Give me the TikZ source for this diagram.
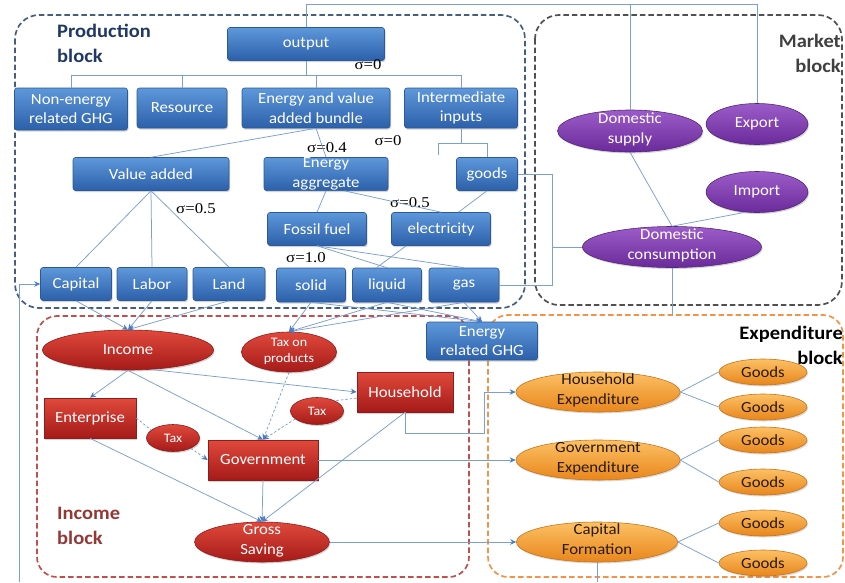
\documentclass[tikz,border=0pt]{standalone}
\usepackage{fontspec}
\setmainfont{Carlito}[FakeStretch=1.08]
\newfontfamily\sigfont{Liberation Serif}[FakeStretch=1.12]
\usetikzlibrary{shapes.geometric,shadows,arrows.meta,calc}
\definecolor{bluetop}{HTML}{5E97DA}
\definecolor{bluebot}{HTML}{2C60AA}
\definecolor{blueedge}{HTML}{2A5A98}
\definecolor{redtop}{HTML}{E0493C}
\definecolor{redbot}{HTML}{A51A18}
\definecolor{rededge}{HTML}{8E1C1A}
\definecolor{purtop}{HTML}{9C5CC8}
\definecolor{purbot}{HTML}{6A2A9A}
\definecolor{puredge}{HTML}{55247C}
\definecolor{ortop}{HTML}{FCC064}
\definecolor{orbot}{HTML}{E8861C}
\definecolor{oredge}{HTML}{C9741C}
\definecolor{ortext}{HTML}{2A1A08}
\definecolor{lineblue}{HTML}{7B9FD0}
\definecolor{arrowblue}{HTML}{4A7CC0}
\definecolor{prodborder}{HTML}{465F80}
\definecolor{mktborder}{HTML}{505050}
\definecolor{incborder}{HTML}{C0504D}
\definecolor{expborder}{HTML}{F2934A}
\definecolor{prodlabel}{HTML}{1F3864}
\definecolor{inclabel}{HTML}{953735}
\newcommand\twol[2]{\raisebox{-4.5pt}{\smash{\makebox[0pt]{\begin{tabular}{@{}c@{}}#1\\#2\end{tabular}}}}}
\tikzset{
  basefont/.style={font=\fontsize{15.5}{19.5}\selectfont},
  bbox/.style={basefont, rectangle, rounded corners=2.5pt, top color=bluetop, bottom color=bluebot,
    draw=blueedge, line width=0.6pt, text=white, align=center, inner sep=0.5pt,
    drop shadow={shadow xshift=1pt, shadow yshift=-1.5pt, opacity=0.35}},
  rrect/.style={basefont, rectangle, top color=redtop, bottom color=redbot,
    draw=rededge, line width=0.6pt, text=white, align=center, inner sep=0.5pt,
    drop shadow={shadow xshift=1pt, shadow yshift=-1.5pt, opacity=0.35}},
  rell/.style={basefont, ellipse, top color=redtop, bottom color=redbot,
    draw=rededge, line width=0.6pt, text=white, inner sep=0pt,
    drop shadow={shadow xshift=1pt, shadow yshift=-1.5pt, opacity=0.35}},
  pell/.style={basefont, ellipse, top color=purtop, bottom color=purbot,
    draw=puredge, line width=0.6pt, text=white, inner sep=0pt,
    drop shadow={shadow xshift=1pt, shadow yshift=-1.5pt, opacity=0.35}},
  oell/.style={basefont, ellipse, top color=ortop, bottom color=orbot,
    draw=oredge, line width=0.6pt, text=ortext, inner sep=0pt,
    drop shadow={shadow xshift=1pt, shadow yshift=-1.5pt, opacity=0.3}},
  smallfont/.style={font=\fontsize{13}{16}\selectfont},
  sig/.style={font=\sigfont\fontsize{15}{18}\selectfont, inner sep=0pt},
  blk/.style={line width=1.7pt, dash pattern=on 5.5pt off 3pt, rounded corners=24pt},
  blklabel/.style={font=\bfseries\fontsize{19}{25}\selectfont, inner sep=0pt},
  conn/.style={draw=lineblue, line width=0.75pt},
  arr/.style={conn, -{Stealth[length=6pt,width=5.5pt,color=arrowblue]}},
  dsh/.style={dash pattern=on 2.5pt off 2pt},
}
\begin{document}
\begin{tikzpicture}[x=1pt,y=-1pt]
\useasboundingbox (0,0) rectangle (845,582);
% blocks
\draw[blk, draw=prodborder] (15,15) rectangle (525,308);
\draw[blk, draw=mktborder] (535,15) rectangle (842,305);
\draw[blk, draw=incborder, rounded corners=20pt] (37,316) rectangle (469,577);
\draw[blk, draw=expborder, rounded corners=20pt] (488,315) rectangle (843,577);
% block labels
\node[blklabel, text=prodlabel, anchor=north west, align=left] (lprod) at (57,24) {Production\\block};
\node[blklabel, text=mktborder!80!black, anchor=north east, align=right] (lmkt) at (841,34) {Market\\block};
\node[blklabel, text=inclabel, anchor=north west, align=left] (linc) at (57,507) {Income\\block};
\node[blklabel, text=black, anchor=north east, align=right] (lexp) at (843,326) {Expenditure\\block};
% production nodes
\node[bbox, minimum width=157, minimum height=33] (output) at (306,44) {output};
\node[bbox, minimum width=113, minimum height=42] (nonghg) at (71,109) {Non-energy\\related GHG};
\node[bbox, minimum width=90, minimum height=40] (resource) at (182,108) {Resource};
\node[bbox, minimum width=148, minimum height=40] (bundle) at (316,108) {Energy and value\\added bundle};
\node[bbox, minimum width=113, minimum height=40] (intermed) at (461,108) {Intermediate\\inputs};
\node[bbox, minimum width=156, minimum height=33] (valueadded) at (151,174) {Value added};
\node[bbox, minimum width=124, minimum height=33] (agg) at (326,174) {Energy\\aggregate};
\node[bbox, minimum width=61, minimum height=33] (goods) at (487,174) {goods};
\node[bbox, minimum width=99, minimum height=33] (fossil) at (317,229) {Fossil fuel};
\node[bbox, minimum width=99, minimum height=33] (electricity) at (441,229) {electricity};
\node[bbox, minimum width=71, minimum height=33] (capital) at (76,284) {Capital};
\node[bbox, minimum width=70, minimum height=33] (labor) at (152,284) {Labor};
\node[bbox, minimum width=72, minimum height=33] (land) at (229,284) {Land};
\node[bbox, minimum width=69, minimum height=34] (solid) at (311,285) {solid};
\node[bbox, minimum width=69, minimum height=34] (liquid) at (387,285) {liquid};
\node[bbox, minimum width=70, minimum height=34] (gas) at (464,285) {gas};
\node[bbox, minimum width=111, minimum height=38] (ghg) at (482,341) {Energy\\related GHG};
% sigma labels
\node[sig] (s1) at (368,65) {σ=0};
\node[sig] (s2) at (327,148) {σ=0.4};
\node[sig] (s3) at (388,141) {σ=0};
\node[sig] (s4) at (410,203) {σ=0.5};
\node[sig] (s5) at (196,209) {σ=0.5};
\node[sig] (s6) at (306,258) {σ=1.0};
% market nodes
\node[pell, minimum width=145, minimum height=42] (dsupply) at (630,131) {\twol{Domestic}{supply}};
\node[pell, minimum width=102, minimum height=41] (export) at (757,124) {Export};
\node[pell, minimum width=102, minimum height=41] (import) at (757,192) {Import};
\node[pell, minimum width=179, minimum height=41] (dcons) at (672,247) {\twol{Domestic}{consumption}};
% income nodes
\node[rell, minimum width=171, minimum height=40] (income) at (128,350) {Income};
\node[rell, smallfont, minimum width=95, minimum height=40] (taxprod) at (289,352) {\raisebox{0.5pt}{\twol{Tax on}{products}}};
\node[rrect, minimum width=92, minimum height=40] (enterprise) at (90,418) {Enterprise};
\node[rell, smallfont, minimum width=53, minimum height=27] (taxL) at (173,438) {Tax};
\node[rell, smallfont, minimum width=53, minimum height=27] (taxR) at (317,411) {Tax};
\node[rrect, minimum width=96, minimum height=40] (household) at (405,392) {Household};
\node[rrect, minimum width=110, minimum height=40] (gov) at (263,460) {Government};
\node[rell, minimum width=135, minimum height=40] (gsave) at (262,542) {\twol{Gross}{Saving}};
% expenditure nodes
\node[oell, minimum width=164, minimum height=40] (hexp) at (598,392) {\twol{Household}{Expenditure}};
\node[oell, minimum width=164, minimum height=40] (gexp) at (598,460) {\twol{Government}{Expenditure}};
\node[oell, minimum width=161, minimum height=40] (capform) at (597,542) {\twol{Capital}{Formation}};
\node[oell, minimum width=88, minimum height=26] (g1) at (763,372) {Goods};
\node[oell, minimum width=88, minimum height=26] (g2) at (763,407) {Goods};
\node[oell, minimum width=88, minimum height=26] (g3) at (763,440) {Goods};
\node[oell, minimum width=88, minimum height=26] (g4) at (763,482) {Goods};
\node[oell, minimum width=88, minimum height=26] (g5) at (763,523) {Goods};
\node[oell, minimum width=88, minimum height=26] (g6) at (763,563) {Goods};
% coordinates
\coordinate (ytop) at (0,4);
\coordinate (ytree) at (0,75);
\coordinate (yint) at (0,143);
\coordinate (orph) at (438,155);
\coordinate (jx) at (552,0);
\coordinate (dcb) at (672,315);
\coordinate (lb) at (19,582);
\coordinate (hx) at (484,433);
% production connectors
\draw[conn] (output.north) -- (output.north |- ytop) -| (export.north);
\draw[conn] (dsupply.north) -- (dsupply.north |- ytop);
\draw[conn] (output.south) -- (output.south |- ytree);
\draw[conn] (nonghg.north) |- (intermed.north |- ytree) -- (intermed.north);
\draw[conn] (resource.north) -- (resource.north |- ytree);
\draw[conn] (bundle.north) -- (bundle.north |- ytree);
\draw[conn] (valueadded.north) -- (bundle.south);
\draw[conn] (bundle.south) -- (agg.north);
\draw[conn] (intermed.south) -- (intermed.south |- yint);
\draw[conn] (orph) |- (goods.north |- yint) -- (goods.north);
\draw[conn] (agg.south) -- (fossil.north);
\draw[conn] ($(agg.south)!0.3!(agg.south east)$) -- (electricity.north);
\draw[conn] (goods.south) -- ($(electricity.north)!0.35!(electricity.north east)$);
\foreach \n in {capital,labor,land} \draw[conn] (valueadded.south) -- (\n.north);
\draw[conn] (fossil.south) -- (liquid.north);
\draw[conn] (fossil.south) -- (gas.north);
\draw[conn] ($(electricity.south west)!0.15!(electricity.south east)$) -- ($(liquid.north west)!0.35!(liquid.north east)$);
% market connectors
\draw[conn] (goods.east) -- (goods.east -| jx) -- (gas.east -| jx) -- (gas.east);
\draw[conn] (dcons.west) -- (dcons.west -| jx);
\draw[conn] (dsupply.south) -- (dcons.north);
\draw[conn] (import.240) -- (dcons.north);
\draw[conn] (dcons.south) -- (dcb);
% income connectors
\draw[arr] (lb) |- (capital.west);
\foreach \n in {capital,labor,land} \draw[arr] (\n.south) -- (income.north);
\foreach \n in {solid,liquid,gas} \draw[arr] (\n.south) -- (taxprod.north);
\foreach \n in {solid,liquid,gas} \draw[arr] (\n.south) -- (ghg.north);
\draw[arr] (income.south) -- (enterprise.north);
\draw[arr] (income.south) -- (gov.north);
\draw[arr] (income.-40) -- (household.west);
\draw[arr,dsh] (taxprod.south) -- (gov.north);
\draw[conn,dsh] ($(household.south west)!0.35!(household.north west)$) -- (taxR.30);
\draw[arr,dsh] (taxR.200) -- (gov.north);
\draw[conn,dsh] (enterprise.east) -- (taxL.160);
\draw[arr,dsh] (taxL.-30) -- (gov.west);
\draw[arr] (enterprise.south) -- (gsave.north);
\draw[arr] (gov.south) -- (gsave.north);
\draw[arr] (household.south) -- (gsave.north);
\draw[arr] (household.south) |- (hx) |- (hexp.west);
\draw[arr] (gov.east) -- (gexp.west);
\draw[arr] (gsave.east) -- (capform.west);
% expenditure connectors
\draw[conn] (hexp.east) -- (g1.west);
\draw[conn] (hexp.east) -- (g2.west);
\draw[conn] (gexp.east) -- (g3.west);
\draw[conn] (gexp.east) -- (g4.west);
\draw[conn] (capform.east) -- (g5.west);
\draw[conn] (capform.east) -- (g6.west);
\draw[conn] (capform.south) -- (capform.south |- lb);
\end{tikzpicture}
\end{document}
